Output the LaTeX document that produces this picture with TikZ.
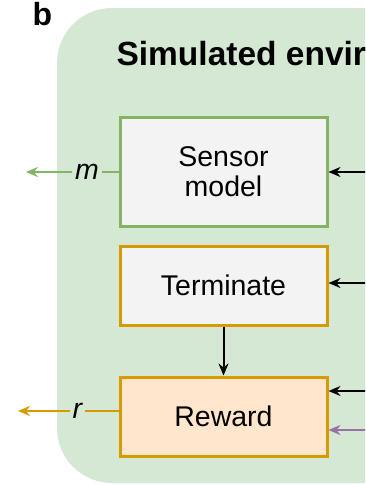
\documentclass[tikz,border=0pt]{standalone}
\usepackage{fontspec}
\setmainfont{Liberation Sans}
\usetikzlibrary{arrows.meta,positioning}
\definecolor{envgreen}{HTML}{D5E8D4}
\definecolor{sensgreen}{HTML}{82B366}
\definecolor{termorange}{HTML}{D79B00}
\definecolor{rewfill}{HTML}{FFE6CC}
\definecolor{boxgray}{HTML}{F3F3F3}
\definecolor{actpurple}{HTML}{9673A6}
\tikzset{
    %Define standard arrow tip
    >={Stealth[length=12pt,width=10pt,inset=4pt]},
    %Define style for boxes
    block/.style={
           rectangle,
           draw, line width=3pt,
           minimum width=207pt,
           inner sep=0pt,
           font=\fontsize{28.5}{30}\selectfont,
           text centered,
           align=center,
           fill=boxgray},
    sensor/.style={
           block,
           draw=sensgreen,
           minimum height=109pt},
    stage/.style={
           block,
           draw=termorange,
           minimum height=79pt},
    % Define arrow style
    pil/.style={
           ->,
           line width=2pt},
    outlabel/.style={
           fill=envgreen,
           inner sep=3pt,
           font=\fontsize{28.5}{30}\selectfont\itshape}
}

\begin{document}
\begin{tikzpicture}[x=1pt,y=-1pt,node distance=17pt]
\clip (0,0) rectangle (365,485);
\useasboundingbox (0,0) rectangle (365,485);
% environment panel
\fill[envgreen, rounded corners=55pt] (57,8) rectangle (460,483);
\node[anchor=base west, font=\fontsize{32}{34}\selectfont\bfseries] (panel) at (29,25) {b};
\node[anchor=base west, font=\fontsize{33.5}{36}\selectfont\bfseries] (title) at (113,65) {Simulated envir};
% model blocks
\node[sensor] (sens) at (223.5,171.5) {Sensor\\model};
\node[stage, below=17pt of sens] (term) {Terminate};
\node[stage, below=49pt of term, fill=rewfill] (rew) {Reward};
% free ends of the connectors
\coordinate (mout) at (26,172);
\coordinate (rout) at (18,411);
\coordinate (sin) at (400,172);
\coordinate (tin) at (400,283);
\coordinate (rin) at (400,391);
\coordinate (ain) at (400,430);
\path[pil]
	(sin) edge (sens.east |- sin)
	(tin) edge (term.east |- tin)
	(rin) edge (rew.east |- rin)
	(term) edge (rew);
\draw[pil, actpurple] (ain) -- (rew.east |- ain);
\draw[pil, sensgreen] (sens.west |- mout) -- node[pos=0.34, outlabel, text=black]{m} (mout);
\draw[pil, termorange] (rew.west |- rout) -- node[pos=0.41, outlabel, text=black]{r} (rout);
\end{tikzpicture}
\end{document}
